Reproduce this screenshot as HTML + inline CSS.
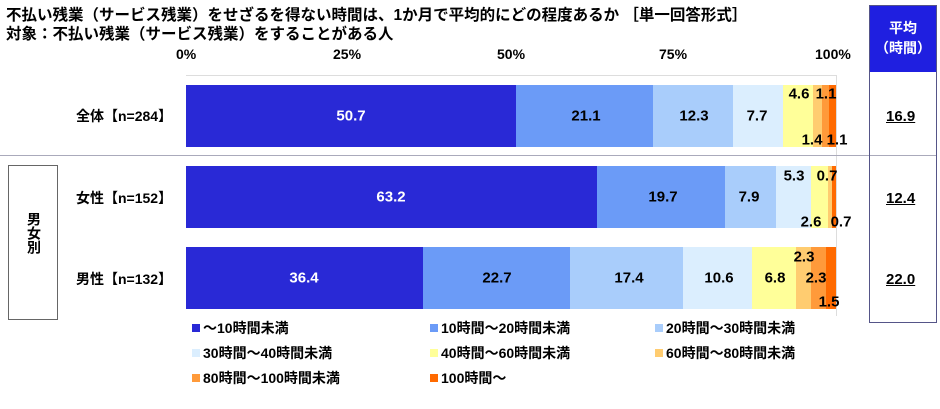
<!DOCTYPE html><html><head><meta charset="utf-8"><style>
body{margin:0;width:940px;height:409px;background:#fff;font-family:"Liberation Sans","Noto Sans CJK JP",sans-serif;font-weight:bold;position:relative;overflow:hidden;color:#000}
.a{position:absolute;white-space:nowrap}
.bar{position:absolute;left:186px;width:650px;height:62px;display:flex}
.bar div{height:100%}
.lbl{position:absolute;font-size:15px;transform:translate(-50%,-50%)}
.lg{position:absolute;font-size:14px}
.lg i{display:inline-block;width:8px;height:8px;margin-right:3px;vertical-align:1px}
</style></head><body>
<div class="a" style="left:6px;top:3px;font-size:15.5px">不払い残業（サービス残業）をせざるを得ない時間は、1か月で平均的にどの程度あるか ［単一回答形式］</div>
<div class="a" style="left:6px;top:22px;font-size:15.5px">対象：不払い残業（サービス残業）をすることがある人</div>
<div class="a" style="left:176px;top:46px;font-size:14px">0%</div>
<div class="a" style="left:333px;top:46px;font-size:14px">25%</div>
<div class="a" style="left:497px;top:46px;font-size:14px">50%</div>
<div class="a" style="left:659px;top:46px;font-size:14px">75%</div>
<div class="a" style="left:815px;top:46px;font-size:14px">100%</div>
<div class="a" style="left:186px;top:75px;width:650px;height:240px;border-top:1px solid #ddd;border-right:1px solid #ddd"></div>
<div class="a" style="left:0;top:155px;width:870px;height:1px;background:#aab"></div>
<div class="a" style="left:8px;top:165px;width:48px;height:153px;border:1px solid #666"></div>
<div class="a" style="left:24px;top:212px;font-size:14px;writing-mode:vertical-rl">男女別</div>
<div class="a" style="left:76px;top:106px;font-size:14px">全体【n=284】</div>
<div class="a" style="left:76px;top:188px;font-size:14px">女性【n=152】</div>
<div class="a" style="left:76px;top:269px;font-size:14px">男性【n=132】</div>
<div class="bar" style="top:85px"><div style="width:50.7%;background:#2929d6"></div><div style="width:21.1%;background:#6b9bf7"></div><div style="width:12.3%;background:#a9cdfb"></div><div style="width:7.7%;background:#dbeefe"></div><div style="width:4.6%;background:#ffff99"></div><div style="width:1.4%;background:#ffcc70"></div><div style="width:1.1%;background:#ff9a3a"></div><div style="width:1.1%;background:#ff6a00"></div></div>
<div class="bar" style="top:166px"><div style="width:63.2%;background:#2929d6"></div><div style="width:19.7%;background:#6b9bf7"></div><div style="width:7.9%;background:#a9cdfb"></div><div style="width:5.3%;background:#dbeefe"></div><div style="width:2.6%;background:#ffff99"></div><div style="width:0.7%;background:#ffcc70"></div><div style="width:0.6%;background:#ff6a00"></div></div>
<div class="bar" style="top:247px"><div style="width:36.4%;background:#2929d6"></div><div style="width:22.7%;background:#6b9bf7"></div><div style="width:17.4%;background:#a9cdfb"></div><div style="width:10.6%;background:#dbeefe"></div><div style="width:6.8%;background:#ffff99"></div><div style="width:2.3%;background:#ffcc70"></div><div style="width:2.3%;background:#ff9a3a"></div><div style="width:1.5%;background:#ff6a00"></div></div>
<div class="lbl" style="left:351px;top:116px;color:#fff">50.7</div>
<div class="lbl" style="left:586px;top:116px">21.1</div>
<div class="lbl" style="left:694px;top:116px">12.3</div>
<div class="lbl" style="left:757px;top:116px">7.7</div>
<div class="lbl" style="left:799px;top:94px">4.6</div>
<div class="lbl" style="left:826px;top:94px">1.1</div>
<div class="lbl" style="left:812px;top:140px">1.4</div>
<div class="lbl" style="left:837px;top:140px">1.1</div>
<div class="lbl" style="left:391px;top:197px;color:#fff">63.2</div>
<div class="lbl" style="left:663px;top:197px">19.7</div>
<div class="lbl" style="left:749px;top:197px">7.9</div>
<div class="lbl" style="left:794px;top:176px">5.3</div>
<div class="lbl" style="left:827px;top:176px">0.7</div>
<div class="lbl" style="left:811px;top:222px">2.6</div>
<div class="lbl" style="left:841px;top:222px">0.7</div>
<div class="lbl" style="left:304px;top:278px;color:#fff">36.4</div>
<div class="lbl" style="left:497px;top:278px">22.7</div>
<div class="lbl" style="left:629px;top:278px">17.4</div>
<div class="lbl" style="left:719px;top:278px">10.6</div>
<div class="lbl" style="left:775px;top:278px">6.8</div>
<div class="lbl" style="left:804px;top:257px">2.3</div>
<div class="lbl" style="left:816px;top:278px">2.3</div>
<div class="lbl" style="left:829px;top:302px">1.5</div>
<div class="a" style="left:869px;top:5px;width:66px;height:316px;border:1px solid #558"></div>
<div class="a" style="left:870px;top:6px;width:66px;height:66px;background:#1f1fe0;color:#fff;font-size:14px;text-align:center;line-height:20px;padding-top:12px;box-sizing:border-box">平均<br>（時間）</div>
<div class="a" style="left:870px;top:155px;width:66px;height:1px;background:#aab"></div>
<div class="a" style="left:886px;top:108px;font-size:15px;text-decoration:underline">16.9</div>
<div class="a" style="left:886px;top:190px;font-size:15px;text-decoration:underline">12.4</div>
<div class="a" style="left:886px;top:271px;font-size:15px;text-decoration:underline">22.0</div>
<div class="lg" style="left:192px;top:318px"><i style="background:#2929d6"></i>～10時間未満</div>
<div class="lg" style="left:430px;top:318px"><i style="background:#6b9bf7"></i>10時間～20時間未満</div>
<div class="lg" style="left:655px;top:318px"><i style="background:#a9cdfb"></i>20時間～30時間未満</div>
<div class="lg" style="left:192px;top:343px"><i style="background:#dbeefe"></i>30時間～40時間未満</div>
<div class="lg" style="left:430px;top:343px"><i style="background:#ffff99"></i>40時間～60時間未満</div>
<div class="lg" style="left:655px;top:343px"><i style="background:#ffcc70"></i>60時間～80時間未満</div>
<div class="lg" style="left:192px;top:368px"><i style="background:#ff9a3a"></i>80時間～100時間未満</div>
<div class="lg" style="left:430px;top:368px"><i style="background:#ff6a00"></i>100時間～</div>
</body></html>
